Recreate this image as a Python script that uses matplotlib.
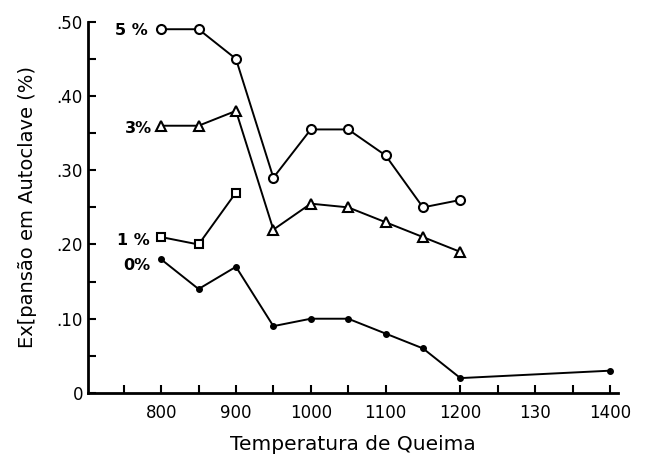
import numpy as np
import matplotlib.pyplot as plt

temps = [800, 850, 900, 950, 1000, 1050, 1100, 1150, 1200]
exp_5 = [0.49, 0.49, 0.45, 0.29, 0.355, 0.355, 0.32, 0.25, 0.26]
exp_3 = [0.36, 0.36, 0.38, 0.22, 0.255, 0.25, 0.23, 0.21, 0.19]
temps_1 = [800, 850, 900]
exp_1 = [0.21, 0.20, 0.27]
temps_0 = [800, 850, 900, 950, 1000, 1050, 1100, 1150, 1200, 1400]
exp_0 = [0.18, 0.14, 0.17, 0.09, 0.10, 0.10, 0.08, 0.06, 0.02, 0.03]

xticks = [800, 900, 1000, 1100, 1200, 1300, 1400]
xticklabels = ['800', '900', '1000', '1100', '1200', '130', '1400']
yticks = [0, 0.1, 0.2, 0.3, 0.4, 0.5]
yticklabels = ['0', '.10', '.20', '.30', '.40', '.50']

fig = plt.figure(figsize=(6.46, 4.74), dpi=100)
ax = fig.add_axes([0.136, 0.171, 0.821, 0.783])

lw = 1.4
ax.plot(temps, exp_5, color='black', lw=lw, marker='o', ms=6.5, mfc='white', mew=1.5)
ax.plot(temps, exp_3, color='black', lw=lw, marker='^', ms=7.5, mfc='white', mew=1.5)
ax.plot(temps_1, exp_1, color='black', lw=lw, marker='s', ms=5.5, mfc='white', mew=1.5)
ax.plot(temps_0, exp_0, color='black', lw=lw, marker='o', ms=4)

# series labels next to the first points
lab_kw = dict(ha='right', va='center', fontsize=11.5, fontweight='bold')
ax.text(782, 0.488, '5 %', **lab_kw)
ax.text(788, 0.356, '3%', **lab_kw)
ax.text(785, 0.205, '1 %', **lab_kw)
ax.text(785, 0.172, '0%', **lab_kw)

ax.set_xlim(702, 1411)
ax.set_ylim(0, 0.5)

ax.spines['top'].set_visible(False)
ax.spines['right'].set_visible(False)
ax.spines['left'].set_linewidth(2)
ax.spines['bottom'].set_linewidth(2)

ax.set_xticks(xticks)
ax.set_xticklabels(xticklabels)
ax.set_xticks([750, 850, 950, 1050, 1250, 1350], minor=True)
ax.set_yticks(yticks)
ax.set_yticklabels(yticklabels)
ax.set_yticks(np.arange(0.05, 0.5, 0.1), minor=True)
ax.tick_params(which='both', direction='in', length=6, width=1.5, labelsize=12)
ax.tick_params(axis='x', pad=8)

ax.set_xlabel('Temperatura de Queima', fontsize=14.5, labelpad=9)
ax.set_ylabel('Ex[pansão em Autoclave (%)', fontsize=14, labelpad=14)

fig.savefig('out.png', dpi=100)
